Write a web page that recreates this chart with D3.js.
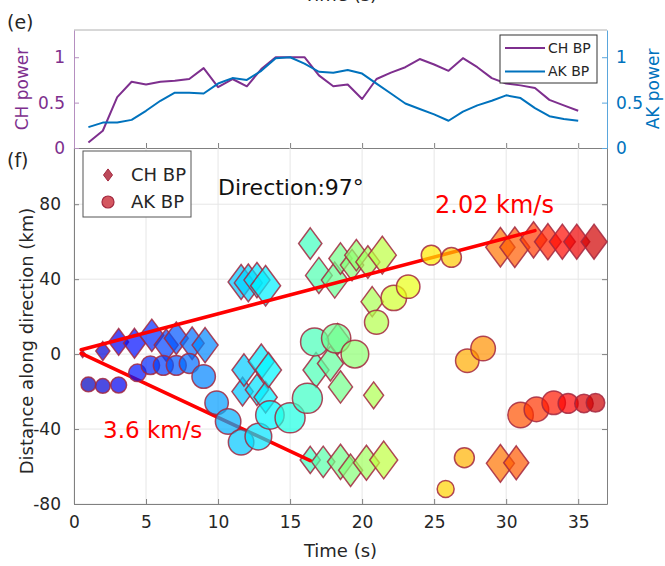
<!DOCTYPE html>
<html>
<head>
<meta charset="utf-8">
<script src="https://cdn.jsdelivr.net/npm/d3@7"></script>
<style>
  html, body { margin: 0; padding: 0; background: #fff; }
  svg { display: block; font-family: "DejaVu Sans", sans-serif; }
</style>
</head>
<body>
<svg id="chart" width="665" height="566"></svg>
<script>
// ---------- Panel (e): normalised beam power vs time ----------
const powerTime = [1,2,3,4,5,6,7,8,9,10,11,12,13,14,15,16,17,18,19,20,21,22,23,24,25,26,27,28,29,30,31,32,33,34,35];
const chPower = [0.06,0.19,0.56,0.73,0.70,0.73,0.74,0.76,0.88,0.67,0.76,0.68,0.87,1.00,1.00,1.00,0.80,0.68,0.70,0.54,
                 0.76,0.83,0.89,0.98,0.92,0.85,0.99,0.89,0.77,0.71,0.69,0.66,0.53,0.47,0.41];
const akPower = [0.23,0.28,0.28,0.31,0.41,0.52,0.61,0.61,0.60,0.71,0.77,0.75,0.85,0.99,1.00,0.93,0.84,0.83,0.86,0.82,
                 0.71,0.60,0.49,0.43,0.37,0.30,0.40,0.47,0.52,0.58,0.55,0.44,0.35,0.32,0.30];

// ---------- Panel (f): back-projection peaks along the 97° direction ----------
// CH BP peaks (diamonds): time (s), distance (km), relative amplitude
const chTime = [0.6, 2.0, 3.1, 4.2, 5.4, 6.4, 7.1, 8.2, 9.1,
                11.8, 13.0, 11.7, 12.7, 13.5, 13.3,
                11.6, 12.1, 12.7, 13.3,
                16.4, 17.0, 18.1, 18.5, 19.3, 19.6, 20.4, 21.4,
                16.8, 17.8, 18.3, 18.5, 20.8, 20.7,
                16.4, 17.3, 18.5, 19.2, 20.3, 21.5,
                29.6, 30.7,
                29.6, 30.6, 31.9, 32.9, 33.9, 34.9, 36.1];
const chDist = [0, 1.6, 6.5, 5.8, 10, 4.8, 8.5, 5.8, 4.8,
                -8.5, -4, -20, -19, -8.5, -23,
                38.5, 38, 39.5, 36.5,
                59, 42, 39.5, 51, 47.5, 52.8, 49.2, 52.8,
                -8.5, -5, 8, -17.5, -22, 28,
                -56.5, -57.5, -57.5, -62, -58, -56.5,
                -58.3, -58,
                57, 57, 61, 60, 60, 60, 60];
const chAmp  = [0.03, 0.22, 0.44, 0.54, 0.64, 0.64, 0.64, 0.64, 0.75,
                0.64, 0.75, 0.5, 0.6, 0.75, 0.6,
                0.75, 0.87, 0.75, 1.0,
                0.6, 0.79, 0.79, 0.6, 0.6, 0.6, 0.64, 0.87,
                0.75, 0.75, 0.6, 0.64, 0.44, 0.55,
                0.45, 0.6, 0.75, 0.64, 0.75, 0.87,
                0.87, 0.7,
                0.95, 1.0, 0.8, 0.8, 0.75, 0.75, 0.75];

// AK BP peaks (circles): time (s), distance (km), relative amplitude
const akTime = [1.0, 2.0, 3.1, 4.4, 5.3, 6.2, 7.1, 8.0, 9.0, 9.9, 10.7, 11.6, 12.8, 13.6, 15.0, 16.2,
                16.7, 18.2, 19.5, 21.0, 22.2, 23.2, 24.8, 26.2, 25.8, 27.1, 27.3, 28.4,
                31.0, 32.1, 33.3, 34.3, 35.4, 36.2];
const akDist = [-16.2, -17, -16.5, -10, -6, -6, -6, -5, -12, -26, -36, -47, -44, -32.5, -34, -23.6,
                6.5, 8.4, 0, 17, 30, 36, 52.8, 51.6, -72, -55.3, -3.5, 3,
                -32.5, -29.5, -26, -26.3, -26.3, -26];
const akAmp  = [0.24, 0.24, 0.28, 0.34, 0.38, 0.44, 0.44, 0.44, 0.61, 0.61, 0.72, 0.72, 0.79, 0.9, 1.0, 1.0,
                0.87, 0.95, 0.85, 0.64, 0.72, 0.61, 0.44, 0.44, 0.32, 0.44, 0.61, 0.67,
                0.72, 0.67, 0.61, 0.44, 0.38, 0.38];

// Fitted rupture fronts: start time, start distance, end time, speed (km/s)
const fitStart = [[0.5, 2.3], [0.5, 0.4]];
const fitEnd   = [32.0, 16.4];
const fitSpeed = [2.02, -3.6];
const fitLabel = ["2.02 km/s", "3.6 km/s"];

const timeTicks  = [0, 5, 10, 15, 20, 25, 30, 35];
const distTicks  = [-80, -40, 0, 40, 80];
const powerTicks = [0, 0.5, 1];

// ---------- styling ----------
const PURPLE = "#7E2F8E", BLUE = "#0072BD", AXIS = "#808080", TXT = "#262626";
const FONT = "DejaVu Sans, sans-serif";

const svg = d3.select("#chart");

// scales
const xT = d3.scaleLinear().domain([0, 37]).range([74, 607]);
const yT = d3.scaleLinear().domain([0, 1.3]).range([148, 30]);
const xB = d3.scaleLinear().domain([0, 37]).range([74, 607]);
const yB = d3.scaleLinear().domain([-80, 110]).range([504, 148]);

// jet colour map over time
const cLim = [-1.4, 39.3];
const jetPos = [0, 0.125, 0.375, 0.625, 0.875, 1];
const jetCol = ["#000080", "#0000ff", "#00ffff", "#ffff00", "#ff0000", "#800000"];
const color = d3.scaleLinear()
  .domain(jetPos.map(p => cLim[0] + p * (cLim[1] - cLim[0])))
  .range(jetCol)
  .interpolate(d3.interpolateRgb)
  .clamp(true);
const size = d3.scaleSqrt().domain([0, 1]).range([0, 15]);

function styleAxis(g, col, txtCol, fs) {
  g.attr("font-family", FONT).attr("font-size", fs);
  g.select(".domain").attr("stroke", col);
  g.selectAll(".tick line").attr("stroke", col);
  g.selectAll(".tick text").attr("fill", txtCol);
}

// ================= Panel (e) =================
const gTop = svg.append("g");
const [tx0, tx1] = xT.range();
const [ty0, ty1] = yT.range();

gTop.append("line").attr("x1", tx0).attr("x2", tx1).attr("y1", ty1).attr("y2", ty1)
  .attr("stroke", "#b0b0b0");

gTop.append("g").attr("transform", `translate(0,${ty0})`)
  .call(d3.axisBottom(xT).tickValues(timeTicks).tickSizeInner(-5).tickSizeOuter(0).tickFormat(""))
  .call(g => styleAxis(g, AXIS, TXT, 17));

gTop.append("g").attr("transform", `translate(${tx0},0)`)
  .call(d3.axisLeft(yT).tickValues(powerTicks).tickSizeInner(-5).tickSizeOuter(0).tickPadding(9)
        .tickFormat(d3.format("~g")))
  .call(g => styleAxis(g, "#b58fc0", PURPLE, 17));

gTop.append("g").attr("transform", `translate(${tx1},0)`)
  .call(d3.axisRight(yT).tickValues(powerTicks).tickSizeInner(-5).tickSizeOuter(0).tickPadding(9)
        .tickFormat(d3.format("~g")))
  .call(g => styleAxis(g, "#5aa6dc", BLUE, 17));

const powerLine = d3.line().x((d, i) => xT(powerTime[i])).y(d => yT(d));
gTop.append("path").datum(chPower).attr("d", powerLine)
  .attr("fill", "none").attr("stroke", PURPLE).attr("stroke-width", 2).attr("stroke-linejoin", "round");
gTop.append("path").datum(akPower).attr("d", powerLine)
  .attr("fill", "none").attr("stroke", BLUE).attr("stroke-width", 2).attr("stroke-linejoin", "round");

// legend (e)
const legE = gTop.append("g").attr("transform", "translate(500,35)");
legE.append("rect").attr("width", 97).attr("height", 48).attr("fill", "#fff").attr("stroke", "#333").attr("stroke-width", 1);
[["CH BP", PURPLE], ["AK BP", BLUE]].forEach(([name, c], i) => {
  const y = 13 + i * 23.5;
  legE.append("line").attr("x1", 5).attr("x2", 45).attr("y1", y).attr("y2", y)
    .attr("stroke", c).attr("stroke-width", 2);
  legE.append("text").attr("x", 48).attr("y", y).attr("dy", "0.35em")
    .attr("font-family", FONT).attr("font-size", 14).attr("fill", TXT).text(name);
});

// axis titles (e)
svg.append("text").attr("transform", `translate(22,${(ty0 + ty1) / 2}) rotate(-90)`)
  .attr("text-anchor", "middle").attr("dy", "0.35em")
  .attr("font-family", FONT).attr("font-size", 17).attr("fill", PURPLE).text("CH power");
svg.append("text").attr("transform", `translate(653,${(ty0 + ty1) / 2}) rotate(-90)`)
  .attr("text-anchor", "middle").attr("dy", "0.35em")
  .attr("font-family", FONT).attr("font-size", 17).attr("fill", BLUE).text("AK power");
svg.append("text").attr("x", (tx0 + tx1) / 2).attr("y", 1)
  .attr("text-anchor", "middle").attr("font-family", FONT).attr("font-size", 18).attr("fill", TXT).text("Time (s)");
svg.append("text").attr("x", 7).attr("y", 29)
  .attr("font-family", FONT).attr("font-size", 19).attr("fill", TXT).text("(e)");

// ================= Panel (f) =================
const gBot = svg.append("g");
const [bx0, bx1] = xB.range();
const [by0, by1] = yB.range();

// grid
gBot.append("g").selectAll("line").data(timeTicks).join("line")
  .attr("x1", d => xB(d)).attr("x2", d => xB(d)).attr("y1", by0).attr("y2", by1)
  .attr("stroke", "#e6e6e6");
gBot.append("g").selectAll("line").data(distTicks).join("line")
  .attr("x1", bx0).attr("x2", bx1).attr("y1", d => yB(d)).attr("y2", d => yB(d))
  .attr("stroke", "#e6e6e6");

// axes
gBot.append("g").attr("transform", `translate(0,${by0})`)
  .call(d3.axisBottom(xB).tickValues(timeTicks).tickSizeInner(-5).tickSizeOuter(0).tickPadding(12)
        .tickFormat(d => String(d)))
  .call(g => styleAxis(g, AXIS, TXT, 17));
gBot.append("g").attr("transform", `translate(${bx0},0)`)
  .call(d3.axisLeft(yB).tickValues(distTicks).tickSizeInner(-5).tickSizeOuter(0).tickPadding(13)
        .tickFormat(d => String(d)))
  .call(g => styleAxis(g, AXIS, TXT, 17));
gBot.append("g").attr("transform", `translate(${bx1},0)`)
  .call(d3.axisRight(yB).tickValues(distTicks).tickSizeInner(-5).tickSizeOuter(0).tickFormat(""))
  .call(g => styleAxis(g, AXIS, TXT, 17));

// CH BP diamonds
const chPts = chTime.map((t, i) => ({ t, d: chDist[i], a: chAmp[i] })).sort((p, q) => p.t - q.t);
const diamond = w => { const h = w * 1.35; return `M0,${-h}L${w},0L0,${h}L${-w},0Z`; };
gBot.append("g").selectAll("path").data(chPts).join("path")
  .attr("transform", p => `translate(${xB(p.t)},${yB(p.d)})`)
  .attr("d", p => diamond(size(p.a)))
  .attr("fill", p => color(p.t)).attr("fill-opacity", 0.7)
  .attr("stroke", "#a3283f").attr("stroke-opacity", 0.85).attr("stroke-width", 1.5);

// fitted fronts
fitStart.forEach(([t0, d0], i) => {
  const t1 = fitEnd[i], d1 = d0 + fitSpeed[i] * (t1 - t0);
  gBot.append("line")
    .attr("x1", xB(t0)).attr("y1", yB(d0)).attr("x2", xB(t1)).attr("y2", yB(d1))
    .attr("stroke", "#ff0000").attr("stroke-width", 3.5).attr("stroke-linecap", "round");
});

// AK BP circles
const akPts = akTime.map((t, i) => ({ t, d: akDist[i], a: akAmp[i] })).sort((p, q) => p.t - q.t);
gBot.append("g").selectAll("circle").data(akPts).join("circle")
  .attr("cx", p => xB(p.t)).attr("cy", p => yB(p.d)).attr("r", p => size(p.a))
  .attr("fill", p => color(p.t)).attr("fill-opacity", 0.7)
  .attr("stroke", "#a3283f").attr("stroke-opacity", 0.85).attr("stroke-width", 1.5);

// annotations
svg.append("text").attr("x", 218).attr("y", 195)
  .attr("font-family", FONT).attr("font-size", 22).attr("fill", "#111").text("Direction:97°");
svg.append("text").attr("x", 435).attr("y", 213)
  .attr("font-family", FONT).attr("font-size", 24).attr("fill", "#ff0000").text(fitLabel[0]);
svg.append("text").attr("x", 103).attr("y", 438)
  .attr("font-family", FONT).attr("font-size", 23).attr("fill", "#ff0000").text(fitLabel[1]);

// legend (f)
const legF = svg.append("g").attr("transform", "translate(83,151)");
legF.append("rect").attr("width", 108).attr("height", 66).attr("fill", "#fff").attr("stroke", "#555").attr("stroke-width", 1);
legF.append("path").attr("transform", "translate(25,24)").attr("d", diamond(4.5))
  .attr("fill", "#b02a3e").attr("fill-opacity", 0.85).attr("stroke", "#a3283f");
legF.append("circle").attr("cx", 25).attr("cy", 51).attr("r", 6)
  .attr("fill", "#cc3a44").attr("fill-opacity", 0.85).attr("stroke", "#a3283f").attr("stroke-width", 1.2);
["CH BP", "AK BP"].forEach((name, i) => {
  legF.append("text").attr("x", 48).attr("y", 24 + i * 27).attr("dy", "0.35em")
    .attr("font-family", FONT).attr("font-size", 18).attr("fill", TXT).text(name);
});

// axis titles (f)
svg.append("text").attr("transform", `translate(27,341) rotate(-90)`)
  .attr("text-anchor", "middle").attr("dy", "0.35em")
  .attr("font-family", FONT).attr("font-size", 18).attr("fill", TXT).text("Distance along direction (km)");
svg.append("text").attr("x", (bx0 + bx1) / 2).attr("y", 557)
  .attr("text-anchor", "middle").attr("font-family", FONT).attr("font-size", 18).attr("fill", TXT).text("Time (s)");
svg.append("text").attr("x", 7).attr("y", 167)
  .attr("font-family", FONT).attr("font-size", 19).attr("fill", TXT).text("(f)");
</script>
</body>
</html>
